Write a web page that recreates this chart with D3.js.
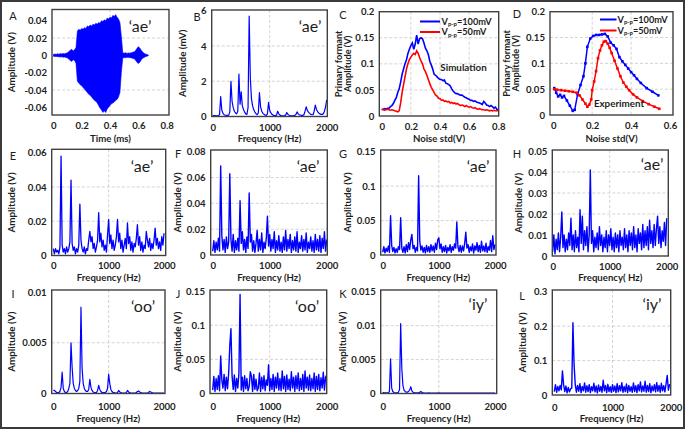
<!DOCTYPE html>
<html><head><meta charset="utf-8">
<script src="https://cdn.jsdelivr.net/npm/d3@7"></script>
<style>
body{margin:0;background:#fff;}
svg{display:block;}
</style></head><body>
<svg id="fig" width="685" height="429"></svg>
<script>
// ---------------- DATA ----------------
// Panel A: speech waveform envelope 'ae' (time in ms, amplitude in mV)
const A_time = d3.range(0, 68).map(i => i / 100);
const A_upper_mV = [1.0,1.5,1.2,1.8,1.4,2.0,1.6,2.2,1.8,2.5,
  3.0,4.5,6.0,7.0,5.0,6.5,9.0,28,30,29,
  31,30,32,31,34,33,35,34,36,35,
  37,36,38,37,40,39,41,40,43,42,
  44,43,46,45,47,44,42,38,22,3.0,
  2.5,3.0,2.2,2.8,2.5,3.0,3.5,4.0,5.5,8.0,
  10.0,8.5,6.0,4.0,2.5,1.5,1.0,0.5];
const A_lower_mV = [-1.0,-1.4,-1.2,-1.6,-1.5,-2.0,-1.7,-2.2,-1.9,-2.5,
  -3.0,-4.5,-6.0,-7.0,-5.0,-6.0,-9.0,-30,-32,-34,
  -35,-37,-39,-41,-43,-45,-46,-48,-50,-52,
  -53,-55,-58,-61,-63,-66,-64,-66,-62,-60,
  -58,-56,-55,-54,-52,-51,-48,-43,-20,-3.0,
  -2.5,-2.8,-2.2,-2.6,-2.4,-3.0,-3.5,-4.0,-5.5,-8.0,
  -9.5,-8.0,-5.5,-3.5,-2.5,-1.5,-1.0,-0.5];

// Spectra sampled every 20 Hz from 0 to 2000 Hz (101 values each)
const freqHz = d3.range(0, 2001, 20);
const B_mV = [0.05,0.05,0.05,0.04,0.04,0.05,0.1,1.13,0.35,0.18,
  0.1,0.07,0.06,0.06,0.08,0.25,2.0,0.85,0.5,0.3,
  0.2,0.15,0.3,2.4,0.7,1.4,0.6,0.4,0.25,0.15,
  0.12,0.5,5.7,2.2,1.0,0.6,0.38,0.25,0.16,0.1,
  0.2,1.35,0.55,0.3,0.18,0.12,0.08,0.06,0.15,0.8,
  0.35,0.2,0.12,0.08,0.05,0.05,0.08,0.3,0.15,0.08,
  0.05,0.04,0.04,0.05,0.08,0.22,0.12,0.07,0.05,0.04,
  0.04,0.05,0.06,0.12,0.26,0.15,0.1,0.07,0.06,0.06,
  0.1,0.3,0.55,0.35,0.25,0.18,0.12,0.1,0.1,0.3,
  0.65,0.4,0.28,0.2,0.15,0.12,0.12,0.15,0.3,0.55,
  0.95];
const E_mV = [4,1,4,2,3,1,5,58,6,2,
  4,1,5,2,4,8,44,7,3,5,
  1,4,2,6,30,9,4,2,5,1,
  4,3,9,14,8,11,4,7,2,5,
  9,25,8,13,5,9,3,6,2,12,
  21,7,12,4,9,3,6,11,21,8,
  13,4,9,2,6,10,4,19,7,11,
  3,8,2,7,5,10,18,6,11,3,
  8,2,6,4,14,9,5,10,3,7,
  4,9,16,6,10,4,8,3,11,6,
  13];
const F_mV = [3,11,2,10,4,13,3,69,15,4,
  12,2,14,5,10,63,12,3,16,2,
  11,4,13,3,42,9,18,4,12,2,
  14,5,48,10,16,3,11,2,9,19,
  3,12,4,17,2,10,5,13,30,7,
  16,3,12,5,18,2,11,4,15,3,
  10,2,14,4,19,3,12,5,16,2,
  11,4,14,3,18,2,10,5,15,3,
  12,4,17,2,10,5,14,3,11,2,
  16,4,12,3,15,2,13,5,18,3,
  12];
const G_mV = [4,12,3,10,5,13,4,57,14,5,
  11,3,9,4,12,8,54,10,4,12,
  3,15,5,18,8,22,30,9,14,4,
  11,6,115,20,7,13,4,11,3,14,
  5,12,4,15,6,13,4,17,8,22,
  25,9,16,4,12,5,14,3,11,6,
  15,4,12,7,16,10,48,12,5,14,
  4,13,6,17,33,10,15,4,12,6,
  16,3,13,7,18,5,14,4,20,6,
  13,5,17,4,12,7,21,5,28,8,
  15];
const H_mV = [2,10,1,8,3,11,2,9,21,4,
  10,2,8,3,11,5,18,3,10,2,
  12,4,9,2,22,6,19,3,12,5,
  14,2,10,41,6,12,2,9,4,11,
  3,14,5,10,2,9,4,12,2,10,
  5,13,3,9,2,11,4,10,2,12,
  5,9,3,13,4,10,2,12,5,11,
  3,14,4,10,2,13,6,11,3,15,
  4,12,5,14,3,17,6,12,4,15,
  5,13,19,6,14,4,12,7,16,5,
  18];
const I_mV = [0.3,0.3,0.2,0.1,0.1,0.1,0.2,0.6,2.1,0.5,
  0.2,0.1,0.1,0.2,0.5,1.0,5.0,2.6,1.0,0.5,
  0.3,0.2,0.3,0.5,1.2,8.5,2.5,1.0,0.5,0.3,
  0.2,0.2,0.4,1.4,0.6,0.3,0.15,0.1,0.1,0.1,
  0.3,0.8,0.4,0.2,0.1,0.1,0.1,0.1,0.2,0.5,
  1.9,1.0,0.4,0.2,0.1,0.1,0.05,0.05,0.1,0.3,
  0.15,0.1,0.05,0.05,0.05,0.05,0.1,0.3,0.15,0.08,
  0.05,0.05,0.05,0.05,0.05,0.1,0.2,0.25,0.15,0.1,
  0.05,0.05,0.05,0.05,0.05,0.05,0.1,0.2,0.15,0.1,
  0.05,0.05,0.05,0.05,0.05,0.05,0.05,0.05,0.05,0.05,
  0.05];
const J_mV = [5,25,3,22,6,26,4,55,20,8,
  28,4,24,7,30,70,95,25,6,27,
  3,22,8,30,145,5,24,3,26,7,
  22,4,10,32,25,3,28,6,21,4,
  8,30,3,24,7,26,4,20,12,42,
  4,22,6,28,3,24,8,30,5,22,
  4,33,7,25,3,27,6,21,4,32,
  8,24,3,26,7,30,4,22,6,28,
  3,33,8,24,5,27,4,22,7,30,
  3,25,6,28,4,23,8,31,5,24,
  27];
const K_mV = [0.2,0.1,0.1,0.1,0.1,0.1,0.3,5.1,0.8,0.3,
  0.15,0.1,0.1,0.1,0.2,0.6,10.3,3.8,1.2,0.5,
  0.3,0.2,0.2,0.3,0.5,1.0,0.4,0.2,0.1,0.1,
  0.1,0.1,0.1,0.2,0.3,0.15,0.1,0.05,0.05,0.05,
  0.05,0.08,0.05,0.05,0.05,0.05,0.05,0.05,0.05,0.05,
  0.08,0.05,0.05,0.05,0.05,0.05,0.05,0.05,0.05,0.05,
  0.05,0.05,0.05,0.05,0.05,0.05,0.05,0.05,0.05,0.05,
  0.05,0.05,0.05,0.05,0.05,0.05,0.05,0.05,0.05,0.05,
  0.05,0.05,0.05,0.05,0.05,0.05,0.05,0.05,0.05,0.05,
  0.05,0.05,0.05,0.05,0.05,0.05,0.05,0.05,0.05,0.05,
  0.05];
const L_mV = [10,30,8,25,12,28,15,70,30,10,
  26,6,22,9,18,20,210,88,30,8,
  28,11,33,7,25,12,35,8,27,10,
  30,7,24,12,34,9,26,6,29,11,
  25,8,43,12,28,7,31,10,24,8,
  30,11,26,7,33,9,27,12,36,8,
  25,10,32,7,28,11,24,8,35,10,
  27,7,30,12,38,9,26,11,40,8,
  28,10,33,7,26,12,30,9,36,11,
  28,8,34,12,27,9,32,57,14,30,
  25];

// Panel C: simulation, noise std 0..0.8 step 0.01
const C_noise = d3.range(0, 81).map(i => i / 100);
const C_100mV = [0.013,0.013,0.014,0.013,0.015,0.015,0.018,0.02,0.024,0.03,
  0.035,0.045,0.052,0.065,0.08,0.09,0.1,0.108,0.12,0.128,
  0.135,0.14,0.128,0.138,0.155,0.138,0.148,0.15,0.148,0.14,
  0.13,0.125,0.118,0.105,0.098,0.09,0.08,0.078,0.075,0.072,
  0.07,0.07,0.068,0.069,0.063,0.062,0.06,0.058,0.052,0.048,
  0.045,0.043,0.043,0.041,0.04,0.04,0.038,0.036,0.035,0.033,
  0.032,0.03,0.03,0.028,0.029,0.027,0.026,0.025,0.024,0.022,
  0.028,0.025,0.021,0.02,0.018,0.02,0.018,0.015,0.017,0.013,
  0.012];
const C_50mV = [0.012,0.012,0.011,0.012,0.013,0.012,0.011,0.012,0.011,0.01,
  0.009,0.008,0.01,0.025,0.045,0.06,0.075,0.09,0.1,0.108,
  0.113,0.117,0.12,0.118,0.125,0.12,0.112,0.105,0.1,0.09,
  0.085,0.078,0.07,0.062,0.055,0.05,0.045,0.04,0.038,0.034,
  0.033,0.03,0.031,0.028,0.029,0.027,0.028,0.025,0.026,0.024,
  0.025,0.023,0.024,0.022,0.02,0.021,0.02,0.018,0.02,0.018,
  0.017,0.018,0.016,0.015,0.016,0.014,0.013,0.014,0.013,0.012,
  0.012,0.011,0.012,0.011,0.01,0.011,0.01,0.011,0.01,0.01,
  0.01];

// Panel D: experiment
const D_100mV_x = [0.005,0.015,0.025,0.035,0.045,0.055,0.07,0.085,0.1,0.11,0.125,0.14,0.155,0.165,0.175,0.19,0.205,0.22,0.235,0.25,0.265,0.28,0.295,0.31,0.325,0.34,0.355,0.37,0.385,0.4,0.415,0.43,0.45,0.48,0.51,0.54];
const D_100mV_y = [0.052,0.043,0.036,0.039,0.034,0.037,0.028,0.018,0.008,0.01,0.04,0.058,0.075,0.1,0.132,0.148,0.153,0.155,0.155,0.156,0.157,0.152,0.14,0.135,0.128,0.112,0.104,0.097,0.09,0.083,0.077,0.07,0.062,0.052,0.045,0.038];
const D_50mV_x = [0.005,0.02,0.04,0.06,0.08,0.1,0.12,0.135,0.15,0.165,0.175,0.185,0.195,0.2,0.21,0.22,0.23,0.24,0.25,0.26,0.27,0.28,0.29,0.3,0.315,0.33,0.345,0.36,0.375,0.39,0.41,0.43,0.46,0.49,0.52,0.545];
const D_50mV_y = [0.05,0.049,0.048,0.047,0.046,0.045,0.043,0.038,0.03,0.022,0.016,0.02,0.03,0.048,0.065,0.085,0.11,0.125,0.135,0.142,0.143,0.138,0.13,0.12,0.105,0.09,0.075,0.063,0.055,0.048,0.04,0.034,0.027,0.021,0.016,0.012];

// Tick labels
const freqTicks = [0, 1000, 2000];
const A_xTicks = [0, 0.2, 0.4, 0.6, 0.8];
const A_yTicks = [-0.06, -0.04, -0.02, 0, 0.02, 0.04];
const B_yTicks = [0, 2, 4, 6];
const C_xTicks = [0, 0.2, 0.4, 0.6, 0.8];
const D_xTicks = [0, 0.2, 0.4, 0.6];
const CD_yTicks = [0, 0.05, 0.1, 0.15, 0.2];
const E_yTicks = [0, 0.02, 0.04, 0.06];
const F_yTicks = [0, 0.02, 0.04, 0.06, 0.08];
const G_yTicks = [0, 0.05, 0.1, 0.15];
const H_yTicks = [0, 0.01, 0.02, 0.03, 0.04, 0.05];
const I_yTicks = [0, 0.005, 0.01];
const J_yTicks = [0, 0.05, 0.1, 0.15];
const K_yTicks = [0, 0.005, 0.01, 0.015];
const L_yTicks = [0, 0.1, 0.2, 0.3];

// ---------------- DRAWING ----------------
const FONT = "Lato, 'Open Sans', sans-serif";
const BLUE = "#0000ff", RED = "#ff0000", INK = "#1e1e1e";
const svg = d3.select("#fig");
svg.append("rect").attr("width", 685).attr("height", 429).attr("fill", "#fff");

function makePanel(c) {
  const [fx0, fx1, fy0, fy1] = c.frame;
  const x = d3.scaleLinear().domain(c.xDom).range(c.xRange);
  const y = d3.scaleLinear().domain(c.yDom).range(c.yRange);
  const g = svg.append("g");
  const gridStyle = s => s.attr("stroke", "#c8c8c8").attr("stroke-width", 0.8).attr("stroke-dasharray", "3,2");
  g.selectAll(null).data(c.gridX).join("line")
    .attr("x1", d => x(d)).attr("x2", d => x(d)).attr("y1", fy0).attr("y2", fy1).call(gridStyle);
  g.selectAll(null).data(c.gridY).join("line")
    .attr("y1", d => y(d)).attr("y2", d => y(d)).attr("x1", fx0).attr("x2", fx1).call(gridStyle);
  const cid = "clip" + c.id;
  svg.append("clipPath").attr("id", cid).append("rect")
    .attr("x", fx0).attr("y", fy0).attr("width", fx1 - fx0).attr("height", fy1 - fy0);
  const plot = g.append("g").attr("clip-path", `url(#${cid})`);

  const styleAxis = s => {
    s.select(".domain").remove();
    s.attr("font-family", FONT).attr("font-size", 9.6).attr("font-weight", "bold");
    s.selectAll("text").attr("fill", INK);
  };
  g.append("g").attr("transform", `translate(0,${fy1})`)
    .call(d3.axisBottom(x).tickValues(c.xTicks).tickFormat(d => String(d)).tickSize(0).tickPadding(c.xPad))
    .call(styleAxis);
  g.append("g").attr("transform", `translate(${fx0},0)`)
    .call(d3.axisLeft(y).tickValues(c.yTicks).tickFormat(d => String(d)).tickSize(0).tickPadding(5))
    .call(styleAxis);

  // axis titles
  g.append("text").attr("x", (fx0 + fx1) / 2).attr("y", c.xTitleY)
    .attr("text-anchor", "middle").attr("dominant-baseline", "central")
    .attr("font-family", FONT).attr("font-weight", "bold").attr("font-size", 9.6).attr("fill", INK)
    .text(c.xTitle);
  c.yTitle.forEach((t, i) => {
    g.append("text").attr("transform", `translate(${c.yTitleX[i]},${(fy0 + fy1) / 2}) rotate(-90)`)
      .attr("text-anchor", "middle").attr("dominant-baseline", "central")
      .attr("font-family", FONT).attr("font-weight", "bold").attr("font-size", c.yTitle.length > 1 ? 9.2 : 9.8).attr("fill", INK)
      .text(t);
  });
  // panel letter
  g.append("text").attr("x", c.letterPos[0]).attr("y", c.letterPos[1])
    .attr("text-anchor", "middle").attr("dominant-baseline", "central")
    .attr("font-family", FONT).attr("font-size", 11).attr("fill", INK).text(c.id);
  if (c.tag) {
    g.append("text").attr("x", c.tagPos[0]).attr("y", c.tagPos[1])
      .attr("text-anchor", "middle").attr("dominant-baseline", "central")
      .attr("font-family", FONT).attr("font-size", 16).attr("fill", INK).text(c.tag);
  }
  return { x, y, g, plot, c };
}
function frame(p) {
  const [fx0, fx1, fy0, fy1] = p.c.frame;
  p.g.append("rect").attr("x", fx0).attr("y", fy0).attr("width", fx1 - fx0).attr("height", fy1 - fy0)
    .attr("fill", "none").attr("stroke", "#404040").attr("stroke-width", 1.4);
}
function spectrum(p, vals, scale, w) {
  const line = d3.line().x((d, i) => p.x(freqHz[i])).y(d => p.y(d * scale));
  p.plot.append("path").datum(vals).attr("d", line)
    .attr("fill", "none").attr("stroke", BLUE).attr("stroke-width", w).attr("stroke-linejoin", "round");
}

const row1T = 138, row2T = 277.5, row3T = 418.5;
const specCfg = (id, frameR, xRange, yDom, yRange, yTicks, gridY, yTitleX, letterPos, tag, tagPos, xPad, xTitleY, xTitle) => ({
  id, frame: frameR, xDom: [0, 2000], xRange, yDom, yRange, xTicks: freqTicks, yTicks,
  gridX: [1000], gridY, xPad, xTitle: xTitle || "Frequency (Hz)", xTitleY, yTitle: ["Amplitude (V)"], yTitleX: [yTitleX],
  letterPos, tag, tagPos
});

// Panel A
const pA = makePanel({ id: "A", frame: [52, 169, 9.5, 115], xDom: [0, 0.8], xRange: [53.3, 166.7],
  yDom: [-0.06, 0.04], yRange: [107.3, 20.7], xTicks: A_xTicks, yTicks: A_yTicks,
  gridX: [0.4], gridY: [0.02, -0.04], xPad: 7.5, xTitle: "Time (ms)", xTitleY: row1T,
  yTitle: ["Amplitude (V)"], yTitleX: [11], letterPos: [13, 15], tag: "‘ae’", tagPos: [140, 25] });
pA.plot.append("path").datum(A_time)
  .attr("d", d3.area().x((d, i) => pA.x(A_time[i])).y0((d, i) => pA.y(A_lower_mV[i] / 1000)).y1((d, i) => pA.y(A_upper_mV[i] / 1000)))
  .attr("fill", BLUE).attr("stroke", BLUE).attr("stroke-width", 0.6);
frame(pA);

// Panel B
const pB = makePanel({ id: "B", frame: [211.7, 327.3, 10, 116.5], xDom: [0, 2000], xRange: [212.7, 326.7],
  yDom: [0, 6], yRange: [116.5, 10.7], xTicks: freqTicks, yTicks: B_yTicks,
  gridX: [1000], gridY: [2, 4], xPad: 7.5, xTitle: "Frequency (Hz)", xTitleY: row1T,
  yTitle: ["Amplitude (mV)"], yTitleX: [182], letterPos: [197, 16], tag: "‘ae’", tagPos: [310, 25] });
spectrum(pB, B_mV, 1, 1.2);
frame(pB);

// Panel C
const pC = makePanel({ id: "C", frame: [379.3, 498.7, 11.7, 116], xDom: [0, 0.8], xRange: [381.7, 498.3],
  yDom: [0, 0.2], yRange: [116, 11.7], xTicks: C_xTicks, yTicks: CD_yTicks,
  gridX: [0.2, 0.4, 0.6], gridY: [0.05, 0.1, 0.15], xPad: 7.5, xTitle: "Noise std(V)", xTitleY: row1T,
  yTitle: ["Primary formant", "Amplitude (V)"], yTitleX: [338, 347.5], letterPos: [343, 14] });
const cLine = vals => d3.line().x((d, i) => pC.x(C_noise[i])).y(d => pC.y(d))(vals);
pC.plot.append("path").attr("d", cLine(C_100mV)).attr("fill", "none").attr("stroke", BLUE).attr("stroke-width", 1.6);
pC.plot.append("path").attr("d", cLine(C_50mV)).attr("fill", "none").attr("stroke", RED).attr("stroke-width", 1.6);
frame(pC);

// Panel D
const pD = makePanel({ id: "D", frame: [550, 673, 11.7, 115], xDom: [0, 0.6], xRange: [553.3, 670],
  yDom: [0, 0.2], yRange: [115, 11.7], xTicks: D_xTicks, yTicks: CD_yTicks,
  gridX: [0.2, 0.4], gridY: [0.05, 0.1, 0.15], xPad: 7.5, xTitle: "Noise std(V)", xTitleY: row1T,
  yTitle: ["Primary formant", "Amplitude (V)"], yTitleX: [506.5, 515.5], letterPos: [517, 13] });
function dSeries(xs, ys, col) {
  const pts = xs.map((v, i) => [v, ys[i]]);
  pD.plot.append("path").attr("d", d3.line().x(d => pD.x(d[0])).y(d => pD.y(d[1]))(pts))
    .attr("fill", "none").attr("stroke", col).attr("stroke-width", 1.5);
  pD.plot.selectAll(null).data(pts).join("rect")
    .attr("x", d => pD.x(d[0]) - 1.3).attr("y", d => pD.y(d[1]) - 1.3).attr("width", 2.6).attr("height", 2.6)
    .attr("fill", col);
}
dSeries(D_100mV_x, D_100mV_y, BLUE);
dSeries(D_50mV_x, D_50mV_y, RED);
frame(pD);

// Legends and annotations
function legendItem(x1, x2, yy, col, tx, label) {
  svg.append("line").attr("x1", x1).attr("x2", x2).attr("y1", yy).attr("y2", yy).attr("stroke", col).attr("stroke-width", 2);
  const t = svg.append("text").attr("x", tx).attr("y", yy + 3)
    .attr("font-family", FONT).attr("font-weight", "bold").attr("font-size", 9.2).attr("fill", INK);
  t.append("tspan").text("V");
  t.append("tspan").attr("dy", 1.8).attr("font-size", 6).text("p-p");
  t.append("tspan").attr("dy", -1.8).text("=" + label);
}
legendItem(420, 440, 21.5, BLUE, 441.5, "100mV");
legendItem(420, 440, 32, RED, 441.5, "50mV");
legendItem(600, 616.5, 19.5, BLUE, 617.5, "100mV");
legendItem(600, 616.5, 30.5, RED, 617.5, "50mV");
svg.append("text").attr("x", 463.5).attr("y", 66.7).attr("text-anchor", "middle").attr("dominant-baseline", "central")
  .attr("font-family", FONT).attr("font-weight", "bold").attr("font-size", 9.8).attr("fill", INK).text("Simulation");
svg.append("text").attr("x", 619).attr("y", 103.3).attr("text-anchor", "middle").attr("dominant-baseline", "central")
  .attr("font-family", FONT).attr("font-weight", "bold").attr("font-size", 9.8).attr("fill", INK).text("Experiment");

// Row 2
const pE = makePanel(specCfg("E", [51.7, 165.7, 149.3, 255.5], [53.3, 164], [0, 0.06], [255.5, 152.7], E_yTicks, [0.02, 0.04], 11, [13, 155], "‘ae’", [142, 165], 7, row2T));
spectrum(pE, E_mV, 0.001, 1.3); frame(pE);
const pF = makePanel(specCfg("F", [210.7, 327.3, 150, 255], [212.7, 326.7], [0, 0.08], [255, 151.7], F_yTicks, [0.02, 0.04, 0.06], 177, [178, 153], "‘ae’", [308, 165], 7, row2T));
spectrum(pF, F_mV, 0.001, 1.4); frame(pF);
const pG = makePanel(specCfg("G", [380.7, 496, 150, 255], [382.7, 495], [0, 0.15], [255, 151.7], G_yTicks, [0.05, 0.1], 347, [343, 153], "‘ae’", [478, 165], 7, row2T));
spectrum(pG, G_mV, 0.001, 1.4); frame(pG);
const pH = makePanel(specCfg("H", [552.3, 668.3, 150, 256], [552.7, 666.7], [0, 0.05], [256, 151], H_yTicks, [0.01, 0.02, 0.03, 0.04], 518, [517, 153], "‘ae’", [652, 163], 7, row2T, "Frequency( Hz)"));
spectrum(pH, H_mV, 0.001, 1.4); frame(pH);

// Row 3
const pI = makePanel(specCfg("I", [51.7, 165, 290, 393.5], [53.3, 164], [0, 0.01], [393.5, 292], I_yTicks, [0.005], 11, [13, 293], "‘oo’", [143, 305], 9.5, row3T));
spectrum(pI, I_mV, 0.001, 1.2); frame(pI);
const pJ = makePanel(specCfg("J", [210, 326.7, 290, 393.5], [212.7, 326.7], [0, 0.15], [393.5, 291], J_yTicks, [0.05, 0.1], 177, [178, 293], "‘oo’", [307, 305], 9.5, row3T));
spectrum(pJ, J_mV, 0.001, 1.4); frame(pJ);
const pK = makePanel(specCfg("K", [380.7, 496.7, 290, 393.5], [382.7, 495], [0, 0.015], [393.5, 291.7], K_yTicks, [0.005, 0.01], 342, [343, 293], "‘iy’", [478, 303], 9.5, row3T));
spectrum(pK, K_mV, 0.001, 1.2); frame(pK);
const pL = makePanel(specCfg("L", [552.3, 670.7, 290, 395], [554.3, 670.7], [0, 0.3], [395, 291.7], L_yTicks, [0.1, 0.2], 522, [522, 295], "‘iy’", [652, 303], 9.5, row3T));
spectrum(pL, L_mV, 0.001, 1.4); frame(pL);

// outer border
svg.append("rect").attr("x", 1).attr("y", 1).attr("width", 683).attr("height", 427)
  .attr("fill", "none").attr("stroke", "#3a3a3a").attr("stroke-width", 2);
</script>
</body></html>
